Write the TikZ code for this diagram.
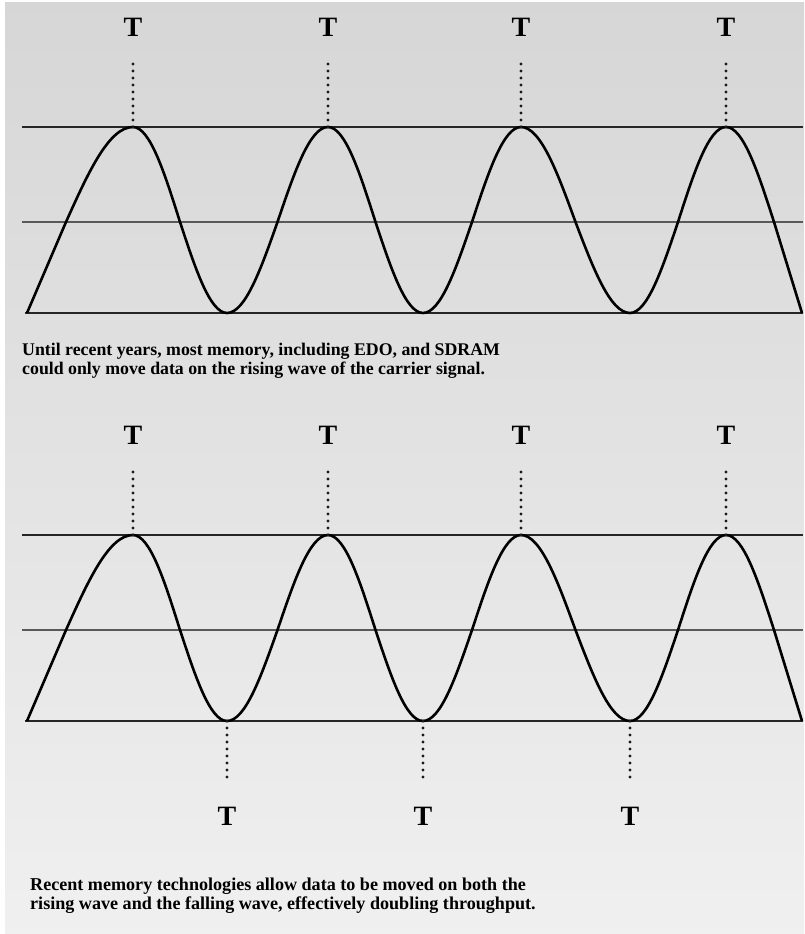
\documentclass[tikz,border=0pt]{standalone}
\usepackage{fontspec}
\setmainfont{Liberation Serif}
\usetikzlibrary{positioning}

\begin{document}
\begin{tikzpicture}[
        x=1pt, y=-1pt,
        % Styles
        backdrop/.style={shade, top color=black!16, bottom color=black!6, draw=none},
        tlabel/.style={font=\fontsize{28}{28}\selectfont\bfseries, inner sep=0pt},
        rail/.style={draw=black!85, line width=2.2pt},
        midline/.style={draw=black!65, line width=1.5pt},
        wave/.style={draw=black, line width=2.6pt, line join=round},
        tick/.style={draw=black!90, line width=3.4pt, line cap=round, dash pattern=on 0pt off 7pt},
        caption/.style={font=\fontsize{17.8}{18.5}\selectfont\bfseries, align=left, inner sep=0pt, anchor=north west}
    ]

    \useasboundingbox (0,0) rectangle (804,934);
    \fill[backdrop] (5,3) rectangle (804,934);

    % Top panel (rising edge only)
    \coordinate (ap1) at (133,127);
    \coordinate (ap2) at (328,127);
    \coordinate (ap3) at (521,127);
    \coordinate (ap4) at (726,127);
    \coordinate (aq1) at (227,313);
    \coordinate (aq2) at (423,313);
    \coordinate (aq3) at (630,313);

    \draw[rail] (22,127) -- (803,127);
    \draw[midline] (22,222) -- (803,222);
    \draw[rail] (25,313) -- (803,313);

    \draw[wave] (27,313) -- (66,222) sin (ap1) cos (180,222) sin (aq1) cos (277.5,222) sin (ap2)
        cos (375.5,222) sin (aq2) cos (472,222) sin (ap3) cos (575.5,222) sin (aq3)
        cos (678,222) sin (ap4) cos (774,222) -- (802,313);

    \node[tlabel, above=90pt of ap1] (at1) {T};
    \node[tlabel, above=90pt of ap2] (at2) {T};
    \node[tlabel, above=90pt of ap3] (at3) {T};
    \node[tlabel, above=90pt of ap4] (at4) {T};

    \draw[tick, shorten >=26pt] (ap1) -- (at1);
    \draw[tick, shorten >=26pt] (ap2) -- (at2);
    \draw[tick, shorten >=26pt] (ap3) -- (at3);
    \draw[tick, shorten >=26pt] (ap4) -- (at4);

    \node[caption] (acap) at (22,343) {Until recent years, most memory, including EDO, and SDRAM\\could only move data on the rising wave of the carrier signal.};

    % Bottom panel (rising and falling edge)
    \coordinate (bp1) at (133,535);
    \coordinate (bp2) at (328,535);
    \coordinate (bp3) at (521,535);
    \coordinate (bp4) at (726,535);
    \coordinate (bq1) at (227,721);
    \coordinate (bq2) at (423,721);
    \coordinate (bq3) at (630,721);

    \draw[rail] (22,535) -- (803,535);
    \draw[midline] (22,630) -- (803,630);
    \draw[rail] (25,721) -- (803,721);

    \draw[wave] (27,721) -- (66,630) sin (bp1) cos (180,630) sin (bq1) cos (277.5,630) sin (bp2)
        cos (375.5,630) sin (bq2) cos (472,630) sin (bp3) cos (575.5,630) sin (bq3)
        cos (678,630) sin (bp4) cos (774,630) -- (802,721);

    \node[tlabel, above=90pt of bp1] (bt1) {T};
    \node[tlabel, above=90pt of bp2] (bt2) {T};
    \node[tlabel, above=90pt of bp3] (bt3) {T};
    \node[tlabel, above=90pt of bp4] (bt4) {T};
    \node[tlabel, below=86pt of bq1] (bb1) {T};
    \node[tlabel, below=86pt of bq2] (bb2) {T};
    \node[tlabel, below=86pt of bq3] (bb3) {T};

    \draw[tick, shorten >=26pt] (bp1) -- (bt1);
    \draw[tick, shorten >=26pt] (bp2) -- (bt2);
    \draw[tick, shorten >=26pt] (bp3) -- (bt3);
    \draw[tick, shorten >=26pt] (bp4) -- (bt4);
    \draw[tick, shorten >=24pt] (bq1) -- (bb1);
    \draw[tick, shorten >=24pt] (bq2) -- (bb2);
    \draw[tick, shorten >=24pt] (bq3) -- (bb3);

    \node[caption, font=\fontsize{18.1}{18.5}\selectfont\bfseries] (bcap) at (30,878) {Recent memory technologies allow data to be moved on both the\\rising wave and the falling wave, effectively doubling throughput.};

\end{tikzpicture}
\end{document}
